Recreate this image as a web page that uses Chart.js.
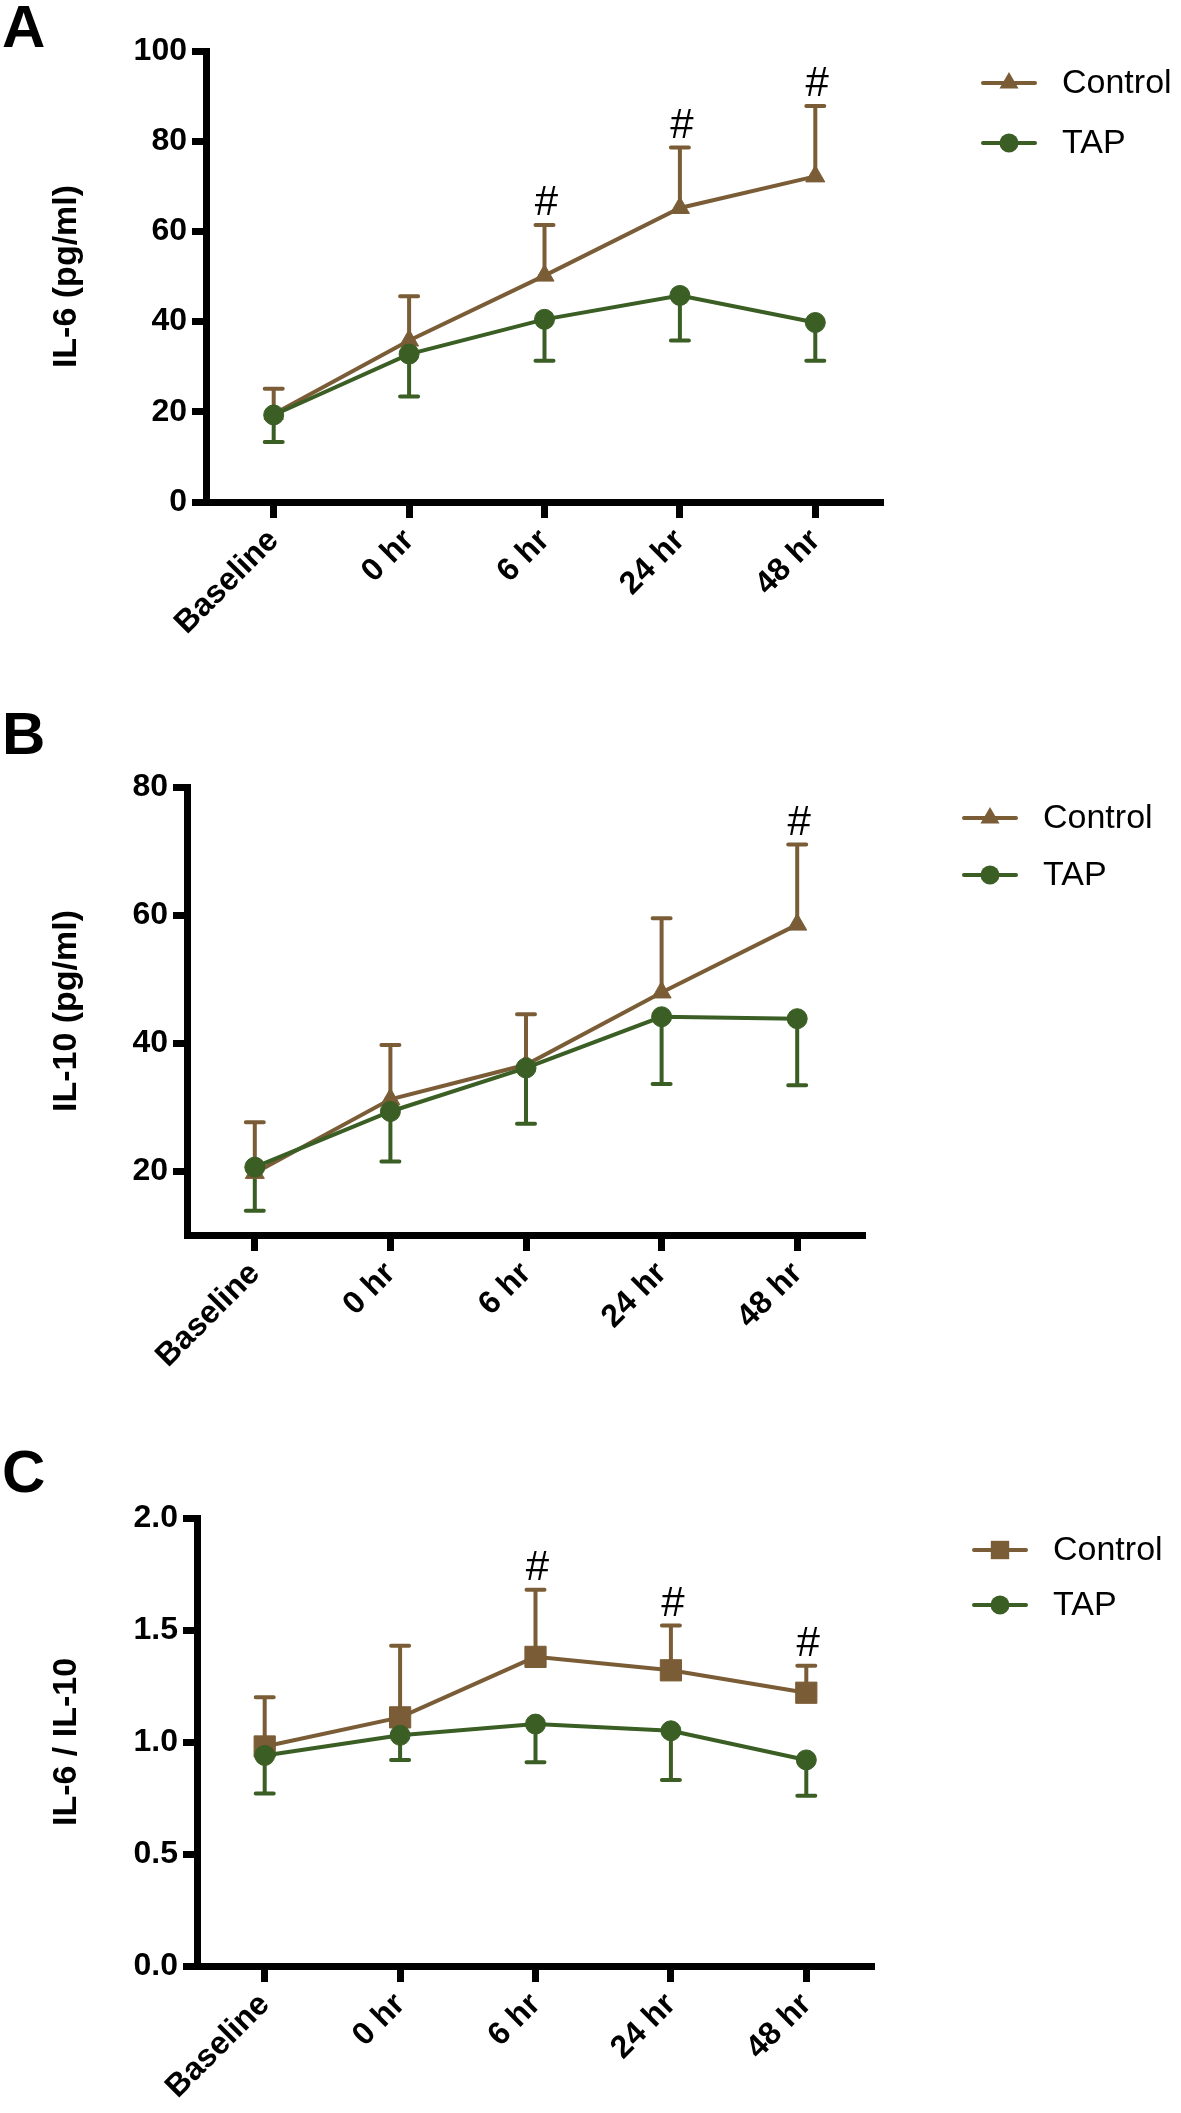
<!DOCTYPE html>
<html lang="en">
<head>
<meta charset="UTF-8">
<title>IL-6 and IL-10, Control vs TAP</title>
<script src="https://cdn.jsdelivr.net/npm/chart.js@4"></script>
<style>
    html, body { margin: 0; padding: 0; background: #fff; }
    body { width: 1181px; height: 2113px; position: relative; overflow: hidden; font-family: 'Liberation Sans', Arial, sans-serif; }
    canvas { position: absolute; left: 0; }
    .tag { position: absolute; left: 2px; font-weight: 700; font-size: 60px; line-height: 60px; color: #000; z-index: 2; }
</style>
</head>
<body>
<canvas id="chartA" width="1181" height="700" style="top:0"></canvas>
<canvas id="chartB" width="1181" height="700" style="top:700px"></canvas>
<canvas id="chartC" width="1181" height="713" style="top:1400px"></canvas>
<div class="tag" style="top:-3px">A</div>
<div class="tag" style="top:704px">B</div>
<div class="tag" style="top:1442px">C</div>

<script>
// ---- data ----
const timepoints = ['Baseline', '0 hr', '6 hr', '24 hr', '48 hr'];

// A: IL-6 (pg/ml)
const il6Control   = [19.5, 35.8, 50.2, 65.2, 72.2];
const il6ControlSD = [5.6, 9.8, 11.2, 13.4, 15.6];
const il6Tap       = [19.3, 32.8, 40.5, 45.8, 39.8];
const il6TapSD     = [6.0, 9.4, 9.2, 10.0, 8.5];
const il6Sig       = [false, false, true, true, true];
const il6Ticks     = [0, 20, 40, 60, 80, 100];

// B: IL-10 (pg/ml)
const il10Control   = [19.7, 31.2, 36.6, 47.9, 58.5];
const il10ControlSD = [7.9, 8.5, 7.9, 11.6, 12.5];
const il10Tap       = [20.6, 29.3, 36.1, 44.1, 43.8];
const il10TapSD     = [6.8, 7.8, 8.7, 10.5, 10.4];
const il10Sig       = [false, false, false, false, true];
const il10Ticks     = [20, 40, 60, 80];

// C: IL-6 / IL-10 ratio
const ratioControl   = [0.98, 1.11, 1.38, 1.32, 1.22];
const ratioControlSD = [0.22, 0.32, 0.30, 0.20, 0.12];
const ratioTap       = [0.94, 1.03, 1.08, 1.05, 0.92];
const ratioTapSD     = [0.17, 0.11, 0.17, 0.22, 0.16];
const ratioSig       = [false, false, true, true, true];
const ratioTicks     = [0, 0.5, 1.0, 1.5, 2.0];

const BROWN = '#7A5D36';
const GREEN = '#3A5E24';
const FONT = "'Liberation Sans', Arial, sans-serif";

Chart.defaults.font.family = FONT;
Chart.defaults.color = '#000';

function marker(ctx, style, x, y, r, color) {
    ctx.save();
    ctx.fillStyle = color;
    ctx.beginPath();
    if (style === 'circle') {
        ctx.arc(x, y, r, 0, Math.PI * 2);
    } else if (style === 'triangle') {
        ctx.moveTo(x, y - r);
        ctx.lineTo(x + r * 0.866, y + r * 0.5);
        ctx.lineTo(x - r * 0.866, y + r * 0.5);
        ctx.closePath();
    } else {
        const s = r * Math.SQRT1_2;
        ctx.rect(x - s, y - s, 2 * s, 2 * s);
    }
    ctx.fill();
    ctx.restore();
}

// error bars (one-sided), # marks and the legend
const extras = {
    id: 'extras',
    beforeDatasetsDraw(chart) {
        const ctx = chart.ctx, ys = chart.scales.y;
        chart.data.datasets.forEach((ds, i) => {
            const meta = chart.getDatasetMeta(i);
            ctx.save();
            ctx.strokeStyle = ds.borderColor;
            ctx.lineWidth = 4;
            ctx.lineCap = 'round';
            meta.data.forEach((pt, j) => {
                const end = ys.getPixelForValue(ds.data[j] + ds.errDir * ds.sd[j]);
                ctx.beginPath();
                ctx.moveTo(pt.x, pt.y);
                ctx.lineTo(pt.x, end);
                ctx.moveTo(pt.x - 9, end);
                ctx.lineTo(pt.x + 9, end);
                ctx.stroke();
            });
            ctx.restore();
        });
    },
    afterDatasetsDraw(chart, args, opts) {
        const ctx = chart.ctx, ys = chart.scales.y;
        const ds = chart.data.datasets[0];
        const meta = chart.getDatasetMeta(0);
        ctx.save();
        ctx.fillStyle = '#000';
        ctx.font = '42px ' + FONT;
        ctx.textAlign = 'center';
        ctx.textBaseline = 'alphabetic';
        opts.sig.forEach((on, j) => {
            if (!on) return;
            const top = ys.getPixelForValue(ds.data[j] + ds.sd[j]);
            ctx.fillText('#', meta.data[j].x + 2, top - 10);
        });
        ctx.restore();
    },
    afterDraw(chart, args, opts) {
        const ctx = chart.ctx;
        chart.data.datasets.forEach((ds, i) => {
            const y = opts.y0 + i * opts.dy;
            ctx.save();
            ctx.strokeStyle = ds.borderColor;
            ctx.lineWidth = 4;
            ctx.lineCap = 'round';
            ctx.beginPath();
            ctx.moveTo(opts.x0, y);
            ctx.lineTo(opts.x0 + 52, y);
            ctx.stroke();
            const r = ds.pointStyle === 'rect' ? 13 : (ds.pointStyle === 'triangle' ? 11 : 9.5);
            marker(ctx, ds.pointStyle, opts.x0 + 26, y, r, ds.borderColor);
            ctx.fillStyle = '#000';
            ctx.font = '34px ' + FONT;
            ctx.textBaseline = 'middle';
            ctx.textAlign = 'left';
            ctx.fillText(ds.label, opts.x0 + 79, y + 1);
            ctx.restore();
        });
    }
};

function series(label, data, sd, dir, color, style, radius, order) {
    return {
        label: label, data: data, sd: sd, errDir: dir,
        borderColor: color, backgroundColor: color,
        borderWidth: 4, pointStyle: style, pointRadius: radius,
        pointBackgroundColor: color, pointBorderColor: color, pointBorderWidth: 1,
        tension: 0, clip: false, order: order
    };
}

function makePanel(id, p) {
    new Chart(document.getElementById(id), {
        type: 'line',
        data: {
            labels: timepoints,
            datasets: [
                series('Control', p.control, p.controlSD, 1, BROWN, p.controlStyle, p.controlRadius, 1),
                series('TAP', p.tap, p.tapSD, -1, GREEN, 'circle', 10, 0)
            ]
        },
        options: {
            responsive: false,
            animation: false,
            devicePixelRatio: 1,
            layout: { padding: { left: 0, top: p.top, right: p.right, bottom: 0 } },
            plugins: {
                legend: { display: false },
                tooltip: { enabled: false },
                extras: { sig: p.sig, x0: p.legX, y0: p.legY, dy: p.legDy }
            },
            scales: {
                x: {
                    offset: true,
                    afterFit: s => { s.height = p.xHeight; },
                    border: { color: '#000', width: 7 },
                    grid: { drawOnChartArea: false, offset: false, tickLength: 16, tickWidth: 7, tickColor: '#000' },
                    ticks: { font: { size: 32, weight: 'bold' }, maxRotation: 45, minRotation: 45, autoSkip: false, padding: 4, color: '#000' }
                },
                y: {
                    min: p.min, max: p.max,
                    afterBuildTicks: s => { s.ticks = p.ticks.map(v => ({ value: v })); },
                    afterFit: s => { s.width = p.yWidth; },
                    border: { color: '#000', width: 7 },
                    grid: { drawOnChartArea: false, tickLength: 14, tickWidth: 7, tickColor: '#000' },
                    ticks: { font: { size: 32, weight: 'bold' }, padding: 5, color: '#000', callback: p.fmt },
                    title: { display: true, text: p.title, font: { size: 34, weight: 'bold' }, padding: { top: 46, bottom: 0 }, color: '#000' }
                }
            }
        },
        plugins: [extras]
    });
}

makePanel('chartA', {
    control: il6Control, controlSD: il6ControlSD, tap: il6Tap, tapSD: il6TapSD, sig: il6Sig,
    controlStyle: 'triangle', controlRadius: 11,
    min: 0, max: 100, ticks: il6Ticks, fmt: v => String(v), title: 'IL-6 (pg/ml)',
    top: 51, right: 298, yWidth: 206, xHeight: 198,
    legX: 983, legY: 83, legDy: 60
});

makePanel('chartB', {
    control: il10Control, controlSD: il10ControlSD, tap: il10Tap, tapSD: il10TapSD, sig: il10Sig,
    controlStyle: 'triangle', controlRadius: 11,
    min: 10, max: 80, ticks: il10Ticks, fmt: v => String(v), title: 'IL-10 (pg/ml)',
    top: 87, right: 316, yWidth: 187, xHeight: 165,
    legX: 964, legY: 118, legDy: 57
});

makePanel('chartC', {
    control: ratioControl, controlSD: ratioControlSD, tap: ratioTap, tapSD: ratioTapSD, sig: ratioSig,
    controlStyle: 'rect', controlRadius: 15,
    min: 0, max: 2, ticks: ratioTicks, fmt: v => Number(v).toFixed(1), title: 'IL-6 / IL-10',
    top: 118, right: 307, yWidth: 197, xHeight: 147,
    legX: 974, legY: 150, legDy: 55
});
</script>
</body>
</html>
